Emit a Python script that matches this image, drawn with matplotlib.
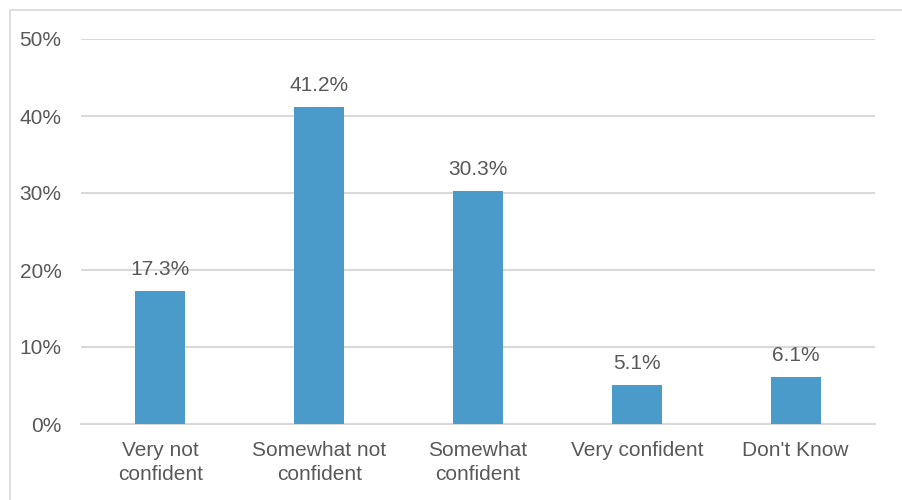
import matplotlib
matplotlib.use("Agg")
import matplotlib.pyplot as plt
from matplotlib.patches import Rectangle

categories = ["Very not\nconfident", "Somewhat not\nconfident", "Somewhat\nconfident", "Very confident", "Don't Know"]
values = [17.3, 41.2, 30.3, 5.1, 6.1]
yticks = [0, 10, 20, 30, 40, 50]
ytick_labels = ["0%", "10%", "20%", "30%", "40%", "50%"]

plt.rcParams['font.family'] = ['Liberation Sans', 'DejaVu Sans']
W, H = 903, 500
fig = plt.figure(figsize=(W/100, H/100), dpi=100)
ax = fig.add_axes([81/W, 1-424/H, (875-81)/W, (424-39)/H])

bar_color = "#4a9bca"
text_color = "#595959"
grid_color = "#d9d9d9"
fs = 15

x = list(range(len(categories)))
bars = ax.bar(x, values, width=0.315, color=bar_color, zorder=3)
for xi, v in zip(x, values):
    ax.annotate(f"{v:.1f}%", (xi, v), xytext=(0, 11.5), textcoords="offset points",
                ha="center", va="baseline", fontsize=fs, color=text_color)

ax.set_xlim(-0.5, len(categories) - 0.5)
ax.set_ylim(0, 50)
ax.set_yticks(yticks)
ax.set_yticklabels(ytick_labels)
ax.set_xticks(x)
ax.set_xticklabels(categories)
ax.tick_params(axis='both', length=0, labelsize=fs, colors=text_color)
ax.tick_params(axis='y', pad=14)
ax.tick_params(axis='x', pad=12)
for lbl in ax.get_xticklabels():
    lbl.set_linespacing(1.35)
ax.yaxis.grid(True, color=grid_color, linewidth=1.5, zorder=0)
for s in ["top", "right", "left"]:
    ax.spines[s].set_visible(False)
ax.spines["bottom"].set_color(grid_color)
ax.spines["bottom"].set_linewidth(1.5)
ax.set_axisbelow(True)

fig.patches.append(Rectangle((10/W, -0.1), 1.0, 1 - 10/H + 0.1, transform=fig.transFigure,
                             fill=False, edgecolor="#d9d9d9", linewidth=1.2))

fig.savefig("out.png", dpi=100)
